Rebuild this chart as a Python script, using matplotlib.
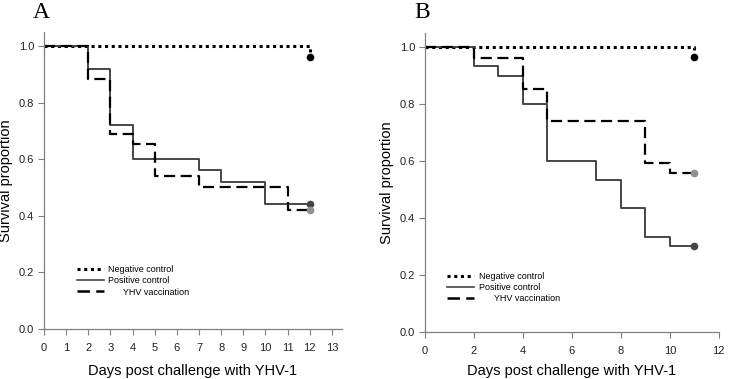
import matplotlib
matplotlib.use("Agg")
import matplotlib.pyplot as plt
from matplotlib.lines import Line2D

plt.rcParams["font.family"] = ["Liberation Sans", "DejaVu Sans"]

# panel A (days 0-12)
a_neg_x = [0, 12, 12]
a_neg_y = [1.0, 1.0, 0.96]
a_pos_x = [0, 2, 3, 4, 7, 8, 10, 12]
a_pos_y = [1.0, 0.92, 0.72, 0.60, 0.56, 0.52, 0.44, 0.44]
a_vac_x = [0, 2, 3, 4, 5, 7, 11, 12]
a_vac_y = [1.0, 0.885, 0.69, 0.655, 0.54, 0.50, 0.42, 0.42]

# panel B (days 0-11)
b_neg_x = [0, 11, 11]
b_neg_y = [1.0, 1.0, 0.967]
b_pos_x = [0, 2, 3, 4, 5, 7, 8, 9, 10, 11]
b_pos_y = [1.0, 0.933, 0.90, 0.80, 0.60, 0.533, 0.433, 0.333, 0.30, 0.30]
b_vac_x = [0, 2, 4, 5, 9, 10, 11]
b_vac_y = [1.0, 0.963, 0.852, 0.74, 0.593, 0.556, 0.556]

labels = ["Negative control", "Positive control", "      YHV vaccination"]
pos_col = "#454545"
spine_col = "#808080"

fig = plt.figure(figsize=(7.29, 3.79), dpi=100)
axA = fig.add_axes([0.0604, 0.132, 0.4086, 0.784])
axB = fig.add_axes([0.583, 0.125, 0.403, 0.788])


def draw(ax, neg, pos, vac, xlim, xticks, leg_anchor, xlab_y):
    ax.step(neg[0], neg[1], where="post", color="black", ls=(0, (1, 1.2)), lw=2.2)
    ax.plot(neg[0][-1], neg[1][-1], "o", color="black", ms=4.5)
    ax.step(pos[0], pos[1], where="post", color=pos_col, lw=1.4)
    ax.plot(pos[0][-1], pos[1][-1], "o", color=pos_col, ms=4.5)
    ax.step(vac[0], vac[1], where="post", color="black", ls=(0, (5, 2.5)), lw=1.6)
    ax.plot(vac[0][-1], vac[1][-1], "o", color="#909090", ms=4.5)
    ax.set_xlim(*xlim)
    ax.set_ylim(0, 1.05)
    ax.set_xticks(xticks)
    ax.set_yticks([0.0, 0.2, 0.4, 0.6, 0.8, 1.0])
    ax.set_yticklabels(["0.0", "0.2", "0.4", "0.6", "0.8", "1.0"])
    for s in ["top", "right"]:
        ax.spines[s].set_visible(False)
    for s in ["left", "bottom"]:
        ax.spines[s].set_color(spine_col)
        ax.spines[s].set_linewidth(0.9)
    ax.tick_params(direction="out", length=4, width=0.8, color=spine_col,
                   labelsize=8, labelcolor="#222222", pad=3)
    ax.tick_params(axis="x", pad=6)
    ax.set_xlabel("Days post challenge with YHV-1", fontsize=10.5)
    ax.xaxis.set_label_coords(0.5, xlab_y)
    ax.set_ylabel("Survival proportion", fontsize=10.5, labelpad=4)
    handles = [Line2D([], [], color="black", ls=(0, (1, 1.2)), lw=2.2),
               Line2D([], [], color=pos_col, lw=1.2),
               Line2D([], [], color="black", ls=(0, (5, 2.5)), lw=1.8)]
    ax.legend(handles, labels, loc="upper left", bbox_to_anchor=leg_anchor,
              frameon=False, fontsize=6.5, handlelength=3.0, handletextpad=0.5,
              labelspacing=0.25, borderpad=0, borderaxespad=0)


draw(axA, (a_neg_x, a_neg_y), (a_pos_x, a_pos_y), (a_vac_x, a_vac_y),
     (0, 13.45), list(range(14)), (0.11, 0.215), -0.118)
draw(axB, (b_neg_x, b_neg_y), (b_pos_x, b_pos_y), (b_vac_x, b_vac_y),
     (0, 12.0), [0, 2, 4, 6, 8, 10, 12], (0.076, 0.2), -0.108)

fig.text(0.045, 0.995, "A", fontsize=17, family="Liberation Serif", va="top")
fig.text(0.569, 0.995, "B", fontsize=17, family="Liberation Serif", va="top")

fig.savefig("out.png", dpi=100)
